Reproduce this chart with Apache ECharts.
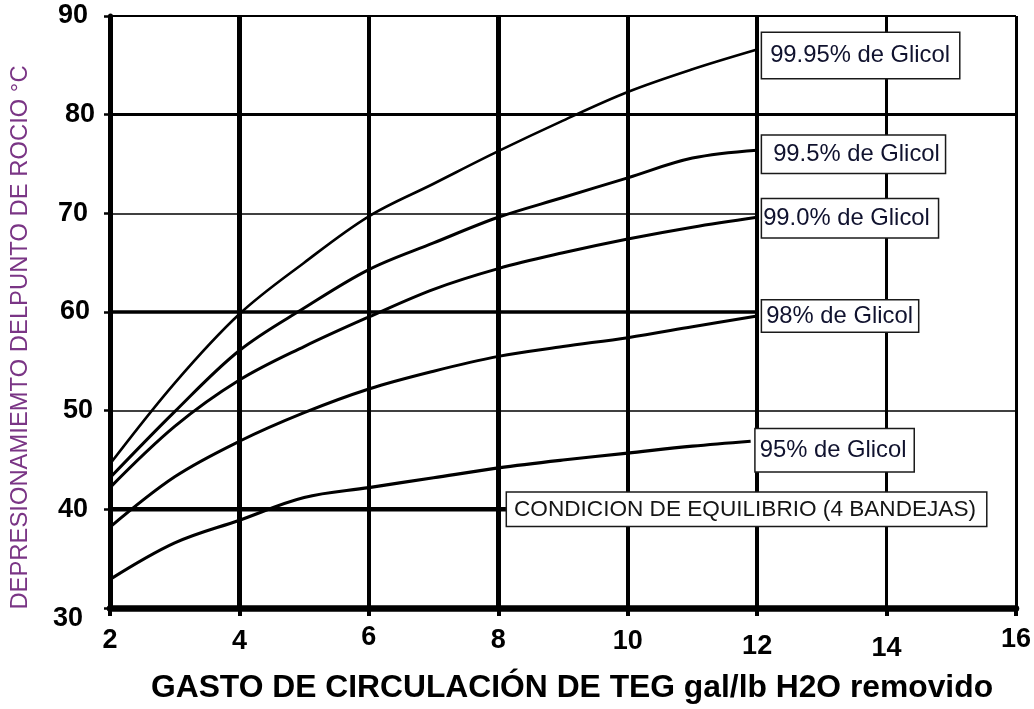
<!DOCTYPE html>
<html>
<head>
<meta charset="utf-8">
<script src="https://cdn.jsdelivr.net/npm/echarts@6/dist/echarts.min.js"></script>
<style>
  html, body { margin: 0; padding: 0; background: #ffffff; }
  #chart { width: 1034px; height: 709px; }
</style>
</head>
<body>
<div id="chart"></div>
<script>
// Circulation rate of TEG (gal/lb H2O removed) at which each curve is read
const gastoTEG   = [2, 3, 4, 5, 6, 7, 8, 9, 10, 11, 12];
const gastoTEG95 = [2, 3, 4, 5, 6, 7, 8, 9, 10, 11, 11.9];

// Dew point depression (°C) for each glycol purity
const glicol9995 = [44.6, 52.8, 59.8, 65.0, 69.7, 73.0, 76.3, 79.4, 82.3, 84.6, 86.6];
const glicol995  = [43.2, 49.9, 56.1, 60.4, 64.3, 67.0, 69.6, 71.6, 73.6, 75.6, 76.4];
const glicol990  = [42.2, 48.4, 53.1, 56.5, 59.5, 62.3, 64.4, 66.0, 67.4, 68.6, 69.6];
const glicol98   = [38.2, 43.3, 46.9, 49.8, 52.2, 54.0, 55.5, 56.5, 57.4, 58.5, 59.6];
const glicol95   = [32.9, 36.6, 38.9, 41.2, 42.2, 43.2, 44.2, 45.0, 45.7, 46.4, 46.9];

// Equilibrium condition (4 trays)
const equilibrioX = [2, 8.12];
const equilibrioY = [40, 40];

const seriesNames = ['99.95% de Glicol', '99.5% de Glicol', '99.0% de Glicol', '98% de Glicol', '95% de Glicol'];
const equilibrioName = 'CONDICION DE EQUILIBRIO (4 BANDEJAS)';

const xTickLabels = ['2', '4', '6', '8', '10', '12', '14', '16'];
const yTickLabels = ['30', '40', '50', '60', '70', '80', '90'];

const xAxisTitle = 'GASTO DE CIRCULACIÓN DE TEG gal/lb H2O removido';
const yAxisTitle = 'DEPRESIONAMIEMTO DELPUNTO DE ROCIO °C';

const FONT = '"Liberation Sans", Arial, Helvetica, sans-serif';

// Grid line styling: [value, width, end of the line along the other axis]
const verticalRules = [[4, 5], [6, 4], [8, 5], [10, 4], [12, 4], [14, 3], [16, 3]];
const horizontalRules = [[90, 2, 16], [80, 3, 16], [70, 1.5, 12], [60, 3.5, 12], [50, 1.5, 16]];

// Small nudges for the hand-set tick labels
const xLabelDrop = { '2': 3, '4': 4, '6': 0, '8': 3, '10': 4, '12': 9, '14': 11, '16': 2 };
const yLabelShift = { '30': 14, '40': 9, '50': 4, '60': 7, '70': 9, '80': 2, '90': 9 };

function pairs(xs, ys) { return xs.map((x, i) => [x, ys[i]]); }

const xRich = {};
xTickLabels.forEach((t, i) => {
  xRich['x' + i] = { fontSize: 27, fontWeight: 'bold', fontFamily: FONT, color: '#000', padding: [xLabelDrop[t], 0, 0, 0] };
});
const yRich = {};
yTickLabels.forEach((t, i) => {
  yRich['y' + i] = {
    fontSize: 27, fontWeight: 'bold', fontFamily: FONT, color: '#000',
    padding: [t === '30' ? 22 : 0, yLabelShift[t], 0, 0]
  };
});

const ruleLines = [];
verticalRules.forEach(([x, w]) => {
  ruleLines.push([{ coord: [x, 30], lineStyle: { width: w, color: '#000', type: 'solid' } }, { coord: [x, 90] }]);
});
horizontalRules.forEach(([y, w, end]) => {
  ruleLines.push([{ coord: [2, y], lineStyle: { width: w, color: '#000', type: 'solid' } }, { coord: [end, y] }]);
});

function boxLabel(padding, offsetY) {
  return {
    show: true,
    formatter: '{a}',
    distance: 0,
    offset: [5, offsetY],
    fontSize: 23.8,
    fontFamily: FONT,
    color: '#10122e',
    lineHeight: 25,
    backgroundColor: '#ffffff',
    borderColor: '#1a1a1a',
    borderWidth: 1.5,
    padding: padding,
    align: 'left',
    verticalAlign: 'middle'
  };
}

const curveData = [glicol9995, glicol995, glicol990, glicol98, glicol95];
const curveX = [gastoTEG, gastoTEG, gastoTEG, gastoTEG, gastoTEG95];
const labelPads = [[10, 9, 10, 8], [6, 5, 6, 11], [7, 8, 6, 1], [3, 5, 3, 4], [9, 7, 8, 4]];
const labelOffsets = [6, 4, 1, 0, 9];
const curveWidths = [2.6, 3, 3, 3, 3.2];

const series = [
  {
    name: equilibrioName,
    type: 'line',
    data: pairs(equilibrioX, equilibrioY),
    symbol: 'none',
    z: 3,
    lineStyle: { color: '#000', width: 4.5 },
    endLabel: Object.assign(boxLabel([4, 10, 4, 7], 0), { fontSize: 22.6, color: '#151515', offset: [1, 0] }),
    markLine: {
      silent: true,
      symbol: ['none', 'none'],
      label: { show: false },
      z: 1,
      data: ruleLines
    }
  }
];

curveData.forEach((vals, i) => {
  series.push({
    name: seriesNames[i],
    type: 'line',
    data: pairs(curveX[i], vals),
    symbol: 'none',
    smooth: 0.35,
    z: 4,
    lineStyle: { color: '#000', width: curveWidths[i] },
    endLabel: boxLabel(labelPads[i], labelOffsets[i])
  });
});

const chart = echarts.init(document.getElementById('chart'), null, { renderer: 'canvas' });
chart.setOption({
  animation: false,
  backgroundColor: '#ffffff',
  grid: { left: 107, right: 9, top: 16, bottom: 98, containLabel: false },
  xAxis: {
    type: 'value',
    min: 2, max: 16, interval: 2,
    axisLine: { show: true, onZero: false, lineStyle: { color: '#000', width: 6.5 } },
    axisTick: { show: true, length: 8, lineStyle: { color: '#000', width: 4 } },
    splitLine: { show: false },
    axisLabel: {
      margin: 16,
      formatter: function (v) {
        const i = xTickLabels.indexOf(String(v));
        return i < 0 ? '' : '{x' + i + '|' + xTickLabels[i] + '}';
      },
      rich: xRich
    },
    name: xAxisTitle,
    nameLocation: 'middle',
    nameGap: 64,
    nameTextStyle: { fontSize: 31.8, fontWeight: 'bold', fontFamily: FONT, color: '#000', padding: [0, 0, 0, 18] }
  },
  yAxis: {
    type: 'value',
    min: 30, max: 90, interval: 10,
    axisLine: { show: true, onZero: false, lineStyle: { color: '#000', width: 5 } },
    axisTick: { show: true, length: 6, lineStyle: { color: '#000', width: 2.5 } },
    splitLine: { show: false },
    axisLabel: {
      margin: 13,
      formatter: function (v) {
        const i = yTickLabels.indexOf(String(v));
        return i < 0 ? '' : '{y' + i + '|' + yTickLabels[i] + '}';
      },
      rich: yRich
    },
    name: yAxisTitle,
    nameLocation: 'middle',
    nameRotate: 90,
    nameGap: 78,
    nameTextStyle: { fontSize: 23.8, fontFamily: FONT, color: '#7a3585', padding: [0, 51, 0, 0] }
  },
  series: series
});
</script>
</body>
</html>
